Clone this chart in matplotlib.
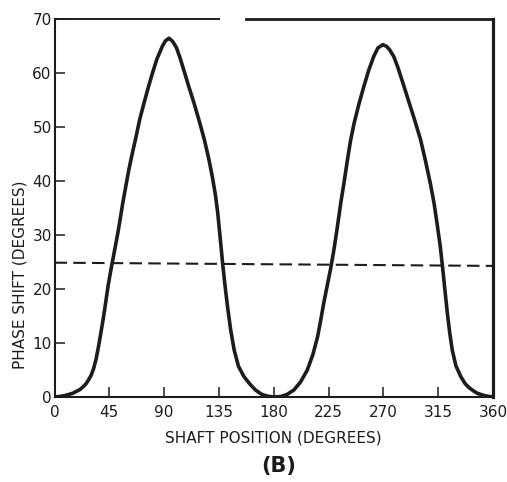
import matplotlib.pyplot as plt

# valores (posição do eixo em graus, defasagem em graus)
shaft = [0, 4, 9, 15, 21, 24, 26, 28, 30, 32, 34, 36, 38, 40, 42, 44, 46, 48,
         50, 52, 54, 56, 58, 61, 64, 67, 70, 73.5, 77, 80.5, 84, 88.5, 91, 94,
         97, 100, 103, 106, 110, 114.5, 119, 123, 126.5, 129.5, 132, 134, 136,
         138, 140, 142, 144.5, 147.5, 151, 155.5, 160, 165, 170, 175, 180,
         186, 191, 196.5, 202, 207.5, 212, 216, 218.5, 221, 224, 226.5, 229,
         231, 233, 235, 237.5, 240.5, 243, 246, 250, 254, 258, 262, 265.5,
         269.5, 272.5, 275, 278.5, 282, 286, 289.5, 295, 300.5, 304.5, 308.5,
         311.5, 314, 316.5, 318.5, 320.5, 322.5, 324.5, 326.5, 329.5, 333.5,
         337, 340, 343.5, 347, 351, 354, 357, 360]
phase = [0, 0.1, 0.3, 0.7, 1.4, 2.0, 2.5, 3.2, 4.0, 5.2, 6.9, 9.2, 11.8, 14.5,
         17.5, 20.6, 23.2, 25.6, 28.0, 30.4, 33.1, 35.9, 38.4, 42.1, 45.3,
         48.3, 51.5, 54.5, 57.4, 60.1, 62.6, 65.0, 66.0, 66.5, 65.9, 64.8,
         62.9, 60.7, 57.7, 54.5, 51.0, 47.7, 44.3, 40.9, 37.6, 34.1, 29.5,
         24.8, 20.6, 16.8, 12.6, 8.7, 5.7, 3.8, 2.5, 1.3, 0.5, 0.15, 0,
         0.1, 0.5, 1.3, 2.8, 5.0, 7.8, 11.2, 14.2, 17.4, 20.8, 23.6, 26.8,
         29.7, 32.8, 36.0, 39.5, 44.0, 47.5, 50.8, 54.4, 57.6, 60.6, 63.1,
         64.7, 65.3, 65.0, 64.4, 63.1, 61.0, 58.2, 55.7, 51.8, 47.7, 43.8,
         39.6, 36.0, 32.2, 28.2, 24.2, 19.8, 15.5, 11.8, 8.7, 5.8, 3.8, 2.5,
         1.8, 1.2, 0.7, 0.4, 0.2, 0.1, 0]

# linha tracejada de referência (levemente inclinada no original)
ref_x = [0, 360]
ref_y = [24.9, 24.3]

x_ticks = [0, 45, 90, 135, 180, 225, 270, 315, 360]
y_ticks = [0, 10, 20, 30, 40, 50, 60, 70]

ink = '#1c1c1c'

fig = plt.figure(figsize=(5.07, 4.82), dpi=100)
ax = fig.add_axes([0.1075, 0.1763, 0.865, 0.7836])

ax.plot(shaft, phase, color=ink, lw=2.6, solid_joinstyle='round',
        solid_capstyle='round')
ax.plot(ref_x, ref_y, color=ink, lw=1.5, dashes=(6, 3))

ax.set_xlim(0, 360)
ax.set_ylim(0, 70)
ax.set_xticks(x_ticks)
ax.set_yticks(y_ticks)
ax.tick_params(direction='in', length=7, width=1.1, color=ink,
               labelsize=11, labelcolor=ink)
ax.tick_params(axis='x', pad=6)
ax.tick_params(axis='y', pad=2)

# bordas: topo com uma falha, lado direito mais grosso
ax.spines['top'].set_visible(False)
ax.spines['left'].set_linewidth(1.5)
ax.spines['bottom'].set_linewidth(1.5)
ax.spines['right'].set_linewidth(2.3)
for s in ['left', 'bottom', 'right']:
    ax.spines[s].set_color(ink)
ax.plot([0, 135], [70, 70], color=ink, lw=1.4, clip_on=False)
ax.plot([157, 360], [70, 70], color=ink, lw=2.0, clip_on=False)

fig.text(0.04, 0.43, 'PHASE SHIFT (DEGREES)', rotation=90, ha='center',
         va='center', fontsize=11, color=ink)
fig.text(0.54, 0.091, 'SHAFT POSITION (DEGREES)', ha='center', va='center',
         fontsize=11, color=ink)
fig.text(0.55, 0.033, '(B)', ha='center', va='center', fontsize=15,
         fontweight='bold', color=ink)

plt.savefig('out.png', dpi=100)
